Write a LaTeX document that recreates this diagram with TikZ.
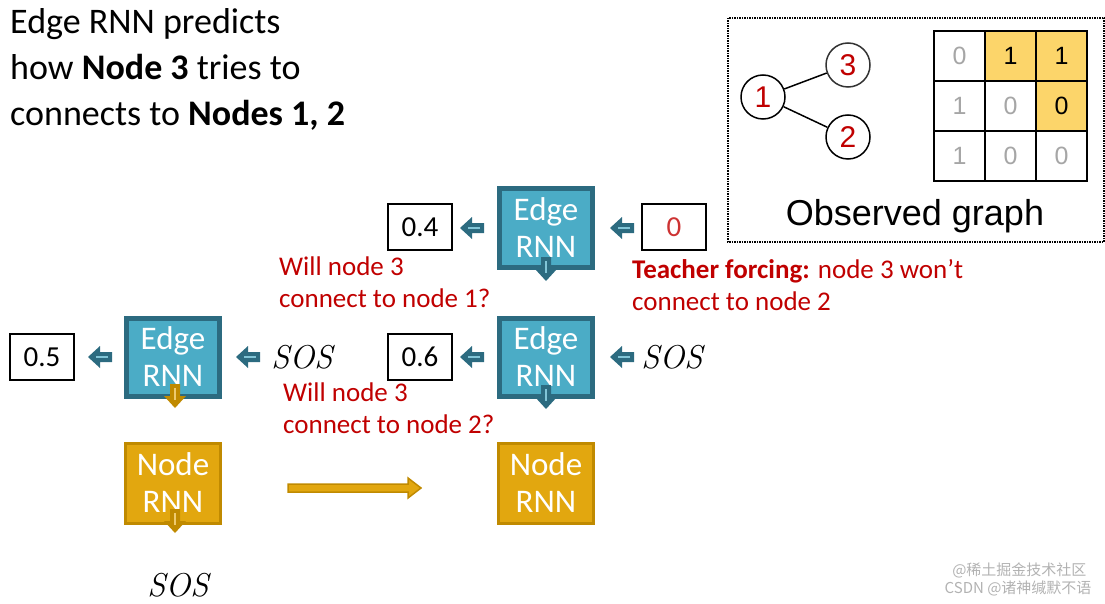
\documentclass[tikz,border=0pt]{standalone}
\usepackage{fontspec}
\setmainfont{Carlito}
\newfontfamily\hv{Liberation Sans}
\newfontfamily\lm{Latin Modern Roman}
\newfontfamily\cjk{Noto Sans CJK SC}
\usetikzlibrary{arrows.meta}
\definecolor{tealf}{HTML}{4BACC6}
\definecolor{teald}{HTML}{2C6B80}
\definecolor{goldf}{HTML}{E2A70F}
\definecolor{goldd}{HTML}{C08A00}
\definecolor{myred}{HTML}{C00000}
\definecolor{cellY}{HTML}{FCD56A}
\begin{document}
\begin{tikzpicture}[x=1pt,y=-1pt,
 edge/.style={draw=teald,fill=tealf,line width=5pt,minimum width=93pt,minimum height=78pt,text=white,font=\fontsize{33}{37}\selectfont,align=center,inner sep=0pt},
 noderb/.style={draw=goldd,fill=goldf,line width=3pt,minimum width=95pt,minimum height=80pt,text=white,font=\fontsize{33}{37}\selectfont,align=center,inner sep=0pt},
 outbox/.style={draw,line width=1.2pt,minimum width=64pt,minimum height=46pt,font=\fontsize{29}{32}\selectfont,inner sep=0pt},
 lbl/.style={text=myred,font=\fontsize{27}{32}\selectfont,align=left,anchor=north west,inner sep=0pt},
 sos/.style={font=\lm\itshape\fontsize{33}{36}\selectfont},
 cnode/.style={circle,draw,line width=1.5pt,minimum size=44pt,inner sep=0pt,text=myred,font=\hv\fontsize{30}{30}\selectfont},
 cell/.style={draw,line width=2pt,minimum width=51pt,minimum height=50pt,font=\hv\fontsize{25}{25}\selectfont,inner sep=0pt},
 pics/blk/.style args={#1/#2}{code={
   \fill[#1] (12,-11) -- (0,0) -- (12,11) -- (12,5) -- (24,5) -- (24,-5) -- (12,-5) -- cycle;
   \draw[#2,line width=2pt] (20,0) -- (8,0);}}]
\useasboundingbox (0,0) rectangle (1105,604);
% title
\node[anchor=north west,align=left,inner sep=0pt,font=\fontsize{36}{46}\selectfont] (title) at (10,8)
 {Edge RNN predicts\\how \textbf{Node 3} tries to\\connects to \textbf{Nodes 1, 2}};
% boxes
\node[edge] (e1) at (546,228) {Edge\\RNN};
\node[edge] (e2) at (546,357) {Edge\\RNN};
\node[edge] (e0) at (173,357) {Edge\\RNN};
\node[noderb] (n0) at (173,483) {Node\\RNN};
\node[noderb] (n1) at (546,483) {Node\\RNN};
\node[outbox] (o05) at (42,357) {0.5};
\node[outbox] (o06) at (420,357) {0.6};
\node[outbox] (o04) at (420,227) {0.4};
\node[outbox,text=myred!80] (o0) at (674,227) {0};
\node[sos] (s0) at (302,357) {SOS};
\node[sos] (s1) at (672,357) {SOS};
\node[sos] (s2) at (178,585) {SOS};
% block arrows
\pic at (88,357) {blk={teald}/{tealf!70}};
\pic at (236,357) {blk={teald}/{tealf!70}};
\pic at (460,357) {blk={teald}/{tealf!70}};
\pic at (610,357) {blk={teald}/{tealf!70}};
\pic at (460,228) {blk={teald}/{tealf!70}};
\pic at (610,228) {blk={teald}/{tealf!70}};
\pic[rotate=90] at (546,281) {blk={teald}/{tealf!70}};
\pic[rotate=90] at (546,409) {blk={teald}/{tealf!70}};
\pic[rotate=90] at (175,408) {blk={goldd}/{goldf!60}};
\pic[rotate=90] at (175,533) {blk={goldd}/{goldf!60}};
% big right arrow
\draw[goldd,line width=1.5pt,fill=goldf] (288,484) -- (408,484) -- (408,478) -- (421,488) -- (408,498) -- (408,492) -- (288,492) -- cycle;
% labels
\node[lbl] (l1) at (279,257) {Will node 3\\connect to node 1?};
\node[lbl] (l2) at (283,383) {Will node 3\\connect to node 2?};
\node[lbl] (l3) at (632,259) {\textbf{Teacher forcing:} node 3 won't\\connect to node 2};
% observed graph
\draw[densely dotted,line width=1.5pt] (728,18) rectangle (1104,242);
\node[cnode] (g1) at (763,97) {1};
\node[cnode,draw=black!80] (g3) at (848,65) {3};
\node[cnode] (g2) at (848,137) {2};
\draw[line width=1.5pt] (g1) -- (g3);
\draw[line width=1.5pt] (g1) -- (g2);
\foreach \r/\c/\v/\f/\t in {0/0/0/white/gray!70,0/1/1/cellY/black,0/2/1/cellY/black,
 1/0/1/white/gray!70,1/1/0/white/gray!70,1/2/0/cellY/black,
 2/0/1/white/gray!70,2/1/0/white/gray!70,2/2/0/white/gray!70}
 \node[cell,fill=\f,text=\t] (m\r\c) at ({959.5+\c*51},{56+\r*50}) {\v};
\node[font=\hv\fontsize{36}{36}\selectfont] (og) at (915,216) {Observed graph};
% watermark
\node[anchor=east,text=gray!60,font=\cjk\fontsize{15}{15}\selectfont] (w1) at (1090,570) {@稀土掘金技术社区};
\node[anchor=east,text=gray!60,font=\cjk\fontsize{15}{15}\selectfont] (w2) at (1095,588) {CSDN @诸神缄默不语};
\end{tikzpicture}
\end{document}
